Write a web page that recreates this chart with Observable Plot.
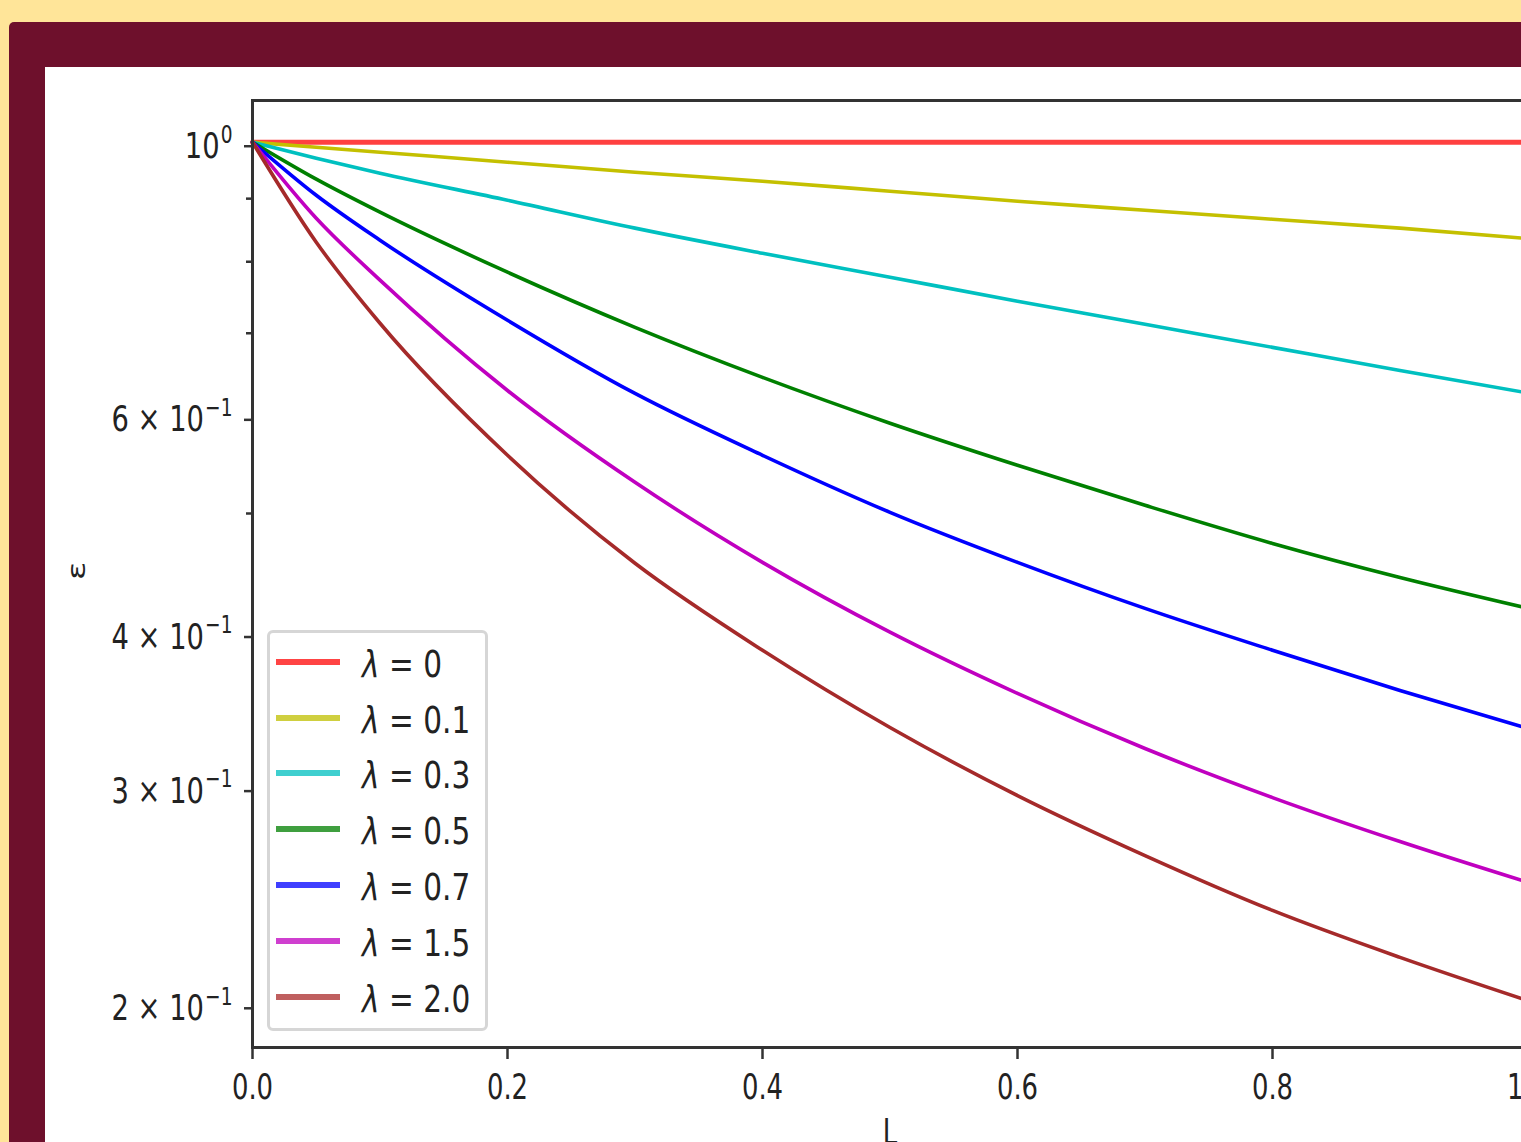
<!DOCTYPE html>
<html>
<head>
<meta charset="utf-8">
<script src="https://cdn.jsdelivr.net/npm/d3@7"></script>
<script src="https://cdn.jsdelivr.net/npm/@observablehq/plot@0.6"></script>
<style>
  html, body { margin: 0; padding: 0; width: 1521px; height: 1142px; overflow: hidden; background: #FFE599; }
  #frame { position: absolute; left: 9px; top: 22px; width: 1600px; height: 1300px; background: #6E102C; border-top-left-radius: 5px; }
  #panel { position: absolute; left: 45px; top: 67px; width: 1476px; height: 1075px; background: #fff; overflow: hidden; }
  #chart { position: absolute; left: 0; top: 0; width: 1502px; }
  #chart svg { max-width: none !important; }
  #legend { position: absolute; left: 222px; top: 563px; width: 221px; height: 401px; box-sizing: border-box;
            border: 3px solid #D6D6D6; border-radius: 6px; background: rgba(255,255,255,0.8); }
  .sw { position: absolute; left: 6px; width: 64px; height: 6px; }
  .lt { position: absolute; left: 92px; font-family: "DejaVu Sans", sans-serif; font-size: 37px; color: #222;
        transform: scaleX(0.8); transform-origin: left center; white-space: pre; line-height: 40px; height: 40px; }
  .lt i { font-style: italic; }
</style>
</head>
<body>
<div id="frame"></div>
<div id="panel"><div id="chart"></div><div id="legend"></div></div>
<script>
// ---- data ----
const L = [0, 0.05, 0.1, 0.2, 0.3, 0.4, 0.5, 0.6, 0.7, 0.8, 0.9, 1.0];
const lambdas = ["0", "0.1", "0.3", "0.5", "0.7", "1.5", "2.0"];
const eps_l0  = [1, 1, 1, 1, 1, 1, 1, 1, 1, 1, 1, 1];
const eps_l01 = [1, 0.9907, 0.9815, 0.9634, 0.9455, 0.9297, 0.9126, 0.8957, 0.8807, 0.8661, 0.8518, 0.8355];
const eps_l03 = [1, 0.9706, 0.9438, 0.8974, 0.8518, 0.8128, 0.7773, 0.7431, 0.7118, 0.6818, 0.6531, 0.6262];
const eps_l05 = [1, 0.9333, 0.8775, 0.7845, 0.7078, 0.6447, 0.5918, 0.5471, 0.5077, 0.4728, 0.4437, 0.4190];
const eps_l07 = [1, 0.9058, 0.8328, 0.7172, 0.6256, 0.5574, 0.5011, 0.4564, 0.4188, 0.3873, 0.3593, 0.3348];
const eps_l15 = [1, 0.8677, 0.7730, 0.6291, 0.5300, 0.4564, 0.4006, 0.3573, 0.3224, 0.2942, 0.2710, 0.2512];
const eps_l20 = [1, 0.8297, 0.7132, 0.5574, 0.4556, 0.3873, 0.3353, 0.2953, 0.2640, 0.2383, 0.2183, 0.2014];
const lineColors   = ["#FF4040", "#C4C000", "#00C0C0", "#008000", "#0000FF", "#C000C0", "#A52A2A"];
const legendColors = ["#FF4444", "#CFCF3F", "#3FCFCF", "#3F9F3F", "#3F3FFF", "#CF3FCF", "#BF5F5F"];
const xTicks = [0, 0.2, 0.4, 0.6, 0.8, 1.0];
const xTickLabels = ["0.0", "0.2", "0.4", "0.6", "0.8", "1.0"];
const yTicks = [1, 0.6, 0.4, 0.3, 0.2];
const yTickMantissa = ["", "6", "4", "3", "2"];
const yTickExponent = ["0", "\u22121", "\u22121", "\u22121", "\u22121"];
const yMinorTicks = [0.9, 0.8, 0.7, 0.5];
const xLabel = "L";
const yLabel = "\u03b5";

const series = [eps_l0, eps_l01, eps_l03, eps_l05, eps_l07, eps_l15, eps_l20];
const rows = [];
series.forEach((s, i) => s.forEach((v, j) => rows.push({L: L[j], eps: v, lam: lambdas[i]})));

const yLabelText = i => (yTickMantissa[i] ? yTickMantissa[i] + " \u00d7 " : "") + "10" + yTickExponent[i];

const chart = Plot.plot({
  width: 1502,
  height: 1100,
  marginLeft: 207,
  marginTop: 33,
  marginRight: 20,
  marginBottom: 120,
  style: { fontFamily: "DejaVu Sans, sans-serif", fontSize: "36px", color: "#222", background: "transparent", overflow: "visible", maxWidth: "none" },
  x: { domain: [0, 1] },
  y: { type: "log", domain: [0.1845, 1.081] },
  color: { domain: lambdas, range: lineColors },
  marks: [
    Plot.line(rows, { x: "L", y: "eps", z: "lam", stroke: "lam", strokeWidth: d => d.lam === "0" ? 5 : 3.6, curve: "monotone-x" }),
    Plot.axisX(xTicks, { tickSize: 12, tickPadding: 14, strokeWidth: 2.5, stroke: "#333", label: null,
                        tickFormat: d => xTickLabels[xTicks.indexOf(d)] }),
    Plot.axisY(yTicks, { tickSize: 8, tickPadding: 12, strokeWidth: 2.5, stroke: "#333", label: null, dy: 4,
                        tickFormat: d => yLabelText(yTicks.indexOf(d)) }),
    Plot.axisY(yMinorTicks, { tickSize: 6, strokeWidth: 2.5, stroke: "#333", label: null, tickFormat: () => "" }),
    Plot.text([xLabel], { frameAnchor: "bottom", lineAnchor: "top", dy: 71, text: d => d, fill: "#222" }),
    Plot.text([yLabel], { frameAnchor: "left", dx: -175, dy: 6, rotate: -90, text: d => d, fill: "#222", fontSize: 34 }),
    Plot.frame({ stroke: "#333", strokeWidth: 3 })
  ]
});
chart.style.maxWidth = "none";

// superscript exponents on the y tick labels
const yLabelEls = new Set();
chart.querySelectorAll("text").forEach(el => {
  const s = el.textContent;
  const i = yTicks.findIndex((d, k) => yLabelText(k) === s);
  if (i >= 0 && s.length > 0) {
    el.textContent = "";
    const base = document.createElementNS("http://www.w3.org/2000/svg", "tspan");
    base.textContent = (yTickMantissa[i] ? yTickMantissa[i] + " \u00d7 " : "") + "10";
    const sup = document.createElementNS("http://www.w3.org/2000/svg", "tspan");
    sup.textContent = yTickExponent[i];
    sup.setAttribute("font-size", "0.68em");
    sup.setAttribute("dy", "-0.62em");
    sup.setAttribute("dx", "0.06em");
    el.appendChild(base); el.appendChild(sup);
    yLabelEls.add(el);
  }
});

// horizontally condense all text to match the reference's narrow glyphs
chart.querySelectorAll("text").forEach(el => {
  const k = yLabelEls.has(el) ? 0.76 : 0.72;
  let t = el.getAttribute("transform") || "";
  const x = el.getAttribute("x");
  if (x !== null) { t += ` translate(${x},0)`; el.removeAttribute("x"); }
  if (t.includes("rotate(")) t = t.replace("rotate(", `scale(${k},1) rotate(`);
  else t += ` scale(${k},1)`;
  el.setAttribute("transform", t.trim());
});
document.getElementById("chart").appendChild(chart);

// legend
const legend = document.getElementById("legend");
lambdas.forEach((lam, i) => {
  const cy = 28.7 + i * 55.8;
  const sw = document.createElement("div");
  sw.className = "sw";
  sw.style.top = (cy - 3) + "px";
  sw.style.background = legendColors[i];
  legend.appendChild(sw);
  const lt = document.createElement("div");
  lt.className = "lt";
  lt.style.top = (cy + 3 - 20) + "px";
  lt.innerHTML = `<i>\u03bb</i> = ${lam}`;
  legend.appendChild(lt);
});
</script>
</body>
</html>
